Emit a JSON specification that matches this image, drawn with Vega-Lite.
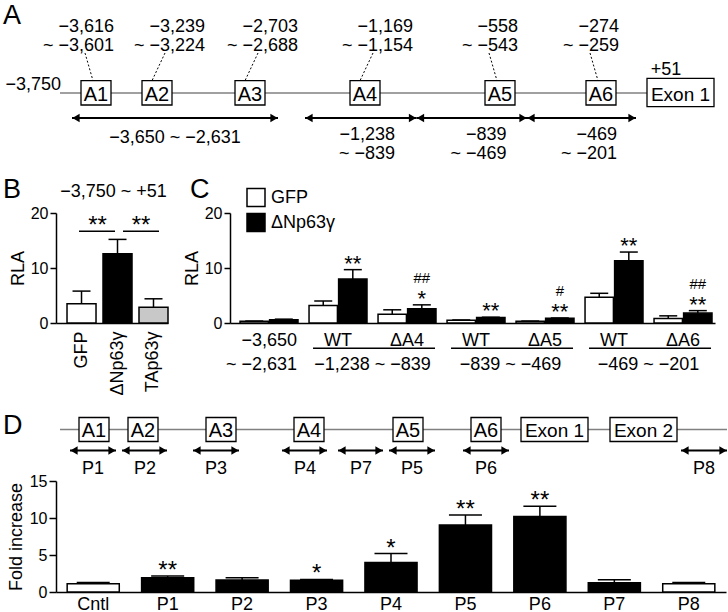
{
"$schema": "https://vega.github.io/schema/vega-lite/v6.json",
"padding": {"left": 3, "top": 0, "right": 0, "bottom": 0},
"background": "white",
"bounds": "flush",
"spacing": 20,
"resolve": {"scale": {"fill": "independent"}, "legend": {"fill": "independent"}},
"datasets": {
"panels": [{"A": "A", "B": "B", "C": "C", "D": "D"}],
"promoter": [{"start": -3750, "end": 51, "startLabel": "−3,750", "endLabel": "+51"}],
"locus": [{"start": -3750, "end": 1450}],
"elements": [
{"name": "A1", "start": -3616, "end": -3601, "range": "−3,616\n~ −3,601"},
{"name": "A2", "start": -3239, "end": -3224, "range": "−3,239\n~ −3,224"},
{"name": "A3", "start": -2703, "end": -2688, "range": "−2,703\n~ −2,688"},
{"name": "A4", "start": -1169, "end": -1154, "range": "−1,169\n~ −1,154"},
{"name": "A5", "start": -558, "end": -543, "range": "−558\n~ −543"},
{"name": "A6", "start": -274, "end": -259, "range": "−274\n~ −259"}],
"exons": [{"name": "Exon 1", "start": 1, "end": 150}, {"name": "Exon 2", "start": 1000, "end": 1150}],
"fragments": [
{"start": -3650, "end": -2631, "label": "−3,650 ~ −2,631"},
{"start": -1238, "end": -839, "label": "−1,238\n~ −839"},
{"start": -839, "end": -469, "label": "−839\n~ −469"},
{"start": -469, "end": -201, "label": "−469\n~ −201"}],
"amplicons": [
{"name": "P1", "start": -3680, "end": -3540},
{"name": "P2", "start": -3300, "end": -3160},
{"name": "P3", "start": -2770, "end": -2620},
{"name": "P4", "start": -1230, "end": -1090},
{"name": "P7", "start": -1000, "end": -860},
{"name": "P5", "start": -620, "end": -480},
{"name": "P6", "start": -340, "end": -200},
{"name": "P8", "start": 1300, "end": 1450}],
"rlaB": [
{"effector": "GFP", "mean": 3.5, "upper": 5.8},
{"effector": "ΔNp63γ", "mean": 12.6, "upper": 15.2},
{"effector": "TAp63γ", "mean": 2.85, "upper": 4.4}],
"sigB": [{"from": "GFP", "to": "ΔNp63γ", "label": "**"}, {"from": "ΔNp63γ", "to": "TAp63γ", "label": "**"}],
"constructB": [{"construct": "−3,750 ~ +51"}],
"rlaC": [
{"construct": "−3,650 ~ −2,631", "effector": "GFP", "mean": 0.3, "upper": 0.35},
{"construct": "−3,650 ~ −2,631", "effector": "ΔNp63γ", "mean": 0.6, "upper": 0.7},
{"construct": "WT −1,238 ~ −839", "effector": "GFP", "mean": 3.2, "upper": 4.0},
{"construct": "WT −1,238 ~ −839", "effector": "ΔNp63γ", "mean": 8.0, "upper": 9.7, "sig": "**"},
{"construct": "ΔA4 −1,238 ~ −839", "effector": "GFP", "mean": 1.6, "upper": 2.4},
{"construct": "ΔA4 −1,238 ~ −839", "effector": "ΔNp63γ", "mean": 2.6, "upper": 3.3, "sig": "*", "sig2": "##"},
{"construct": "WT −839 ~ −469", "effector": "GFP", "mean": 0.5, "upper": 0.55},
{"construct": "WT −839 ~ −469", "effector": "ΔNp63γ", "mean": 1.0, "upper": 1.05, "sig": "**"},
{"construct": "ΔA5 −839 ~ −469", "effector": "GFP", "mean": 0.3, "upper": 0.35},
{"construct": "ΔA5 −839 ~ −469", "effector": "ΔNp63γ", "mean": 0.85, "upper": 0.9, "sig": "**", "sig2": "#"},
{"construct": "WT −469 ~ −201", "effector": "GFP", "mean": 4.7, "upper": 5.4},
{"construct": "WT −469 ~ −201", "effector": "ΔNp63γ", "mean": 11.3, "upper": 12.9, "sig": "**"},
{"construct": "ΔA6 −469 ~ −201", "effector": "GFP", "mean": 0.8, "upper": 1.3},
{"construct": "ΔA6 −469 ~ −201", "effector": "ΔNp63γ", "mean": 1.8, "upper": 2.25, "sig": "**", "sig2": "##"}],
"constructsC": [
{"construct": "−3,650 ~ −2,631", "name": "−3,650\n~ −2,631"},
{"construct": "WT −1,238 ~ −839", "name": "WT"},
{"construct": "ΔA4 −1,238 ~ −839", "name": "ΔA4"},
{"construct": "WT −839 ~ −469", "name": "WT"},
{"construct": "ΔA5 −839 ~ −469", "name": "ΔA5"},
{"construct": "WT −469 ~ −201", "name": "WT"},
{"construct": "ΔA6 −469 ~ −201", "name": "ΔA6"}],
"regionsC": [
{"first": "WT −1,238 ~ −839", "last": "ΔA4 −1,238 ~ −839", "label": "−1,238 ~ −839"},
{"first": "WT −839 ~ −469", "last": "ΔA5 −839 ~ −469", "label": "−839 ~ −469"},
{"first": "WT −469 ~ −201", "last": "ΔA6 −469 ~ −201", "label": "−469 ~ −201"}],
"chip": [
{"region": "Cntl", "sample": "control", "mean": 1.1, "upper": 1.3},
{"region": "P1", "sample": "target", "mean": 1.93, "upper": 2.15, "sig": "**"},
{"region": "P2", "sample": "target", "mean": 1.62, "upper": 1.93},
{"region": "P3", "sample": "target", "mean": 1.58, "upper": 1.7, "sig": "*"},
{"region": "P4", "sample": "target", "mean": 4.0, "upper": 5.2, "sig": "*"},
{"region": "P5", "sample": "target", "mean": 9.05, "upper": 10.4, "sig": "**"},
{"region": "P6", "sample": "target", "mean": 10.2, "upper": 11.6, "sig": "**"},
{"region": "P7", "sample": "target", "mean": 1.26, "upper": 1.66},
{"region": "P8", "sample": "control", "mean": 1.12, "upper": 1.3}]
},
"vconcat": [
{
"width": 672, "height": 192.5,
"layer": [
{"data": {"name": "panels"}, "mark": {"type": "text", "fontSize": 27, "align": "left", "baseline": "alphabetic", "dx": -57},
"encoding": {"x": {"datum": -3750, "type": "quantitative", "axis": null, "scale": {"domain": [-3750,-3650,-3616,-3601,-3239,-3224,-2703,-2688,-2631,-1238,-1169,-1154,-839,-558,-543,-469,-274,-259,-201,1,51,150], "range": [4,16,25,55,86,116,179,209,222,249,294,324,360.5,429,459,471,530,560,580,591,610,658], "nice": false, "zero": false}},
"y": {"datum": 24, "type": "quantitative", "axis": null, "scale": {"domain": [0, 192.5], "reverse": true, "nice": false, "zero": false}},
"text": {"field": "A"}}},
{"data": {"name": "promoter"}, "mark": {"type": "rule", "color": "#808080", "strokeWidth": 1.5},
"encoding": {"x": {"field": "start", "type": "quantitative", "axis": null, "scale": {"domain": [-3750,-3650,-3616,-3601,-3239,-3224,-2703,-2688,-2631,-1238,-1169,-1154,-839,-558,-543,-469,-274,-259,-201,1,51,150], "range": [4,16,25,55,86,116,179,209,222,249,294,324,360.5,429,459,471,530,560,580,591,610,658], "nice": false, "zero": false}},
"x2": {"field": "end"},
"y": {"datum": 93, "type": "quantitative", "axis": null, "scale": {"domain": [0, 192.5], "reverse": true, "nice": false, "zero": false}}}},
{"data": {"name": "elements"}, "mark": {"type": "rect", "fill": "white", "stroke": "black", "strokeWidth": 1.3},
"encoding": {"x": {"field": "start", "type": "quantitative", "axis": null, "scale": {"domain": [-3750,-3650,-3616,-3601,-3239,-3224,-2703,-2688,-2631,-1238,-1169,-1154,-839,-558,-543,-469,-274,-259,-201,1,51,150], "range": [4,16,25,55,86,116,179,209,222,249,294,324,360.5,429,459,471,530,560,580,591,610,658], "nice": false, "zero": false}},
"x2": {"field": "end"},
"y": {"datum": 80.7, "type": "quantitative", "axis": null, "scale": {"domain": [0, 192.5], "reverse": true, "nice": false, "zero": false}},
"y2": {"datum": 105}}},
{"data": {"name": "exons"}, "transform": [{"filter": {"field": "name", "equal": "Exon 1"}}], "mark": {"type": "rect", "fill": "white", "stroke": "black", "strokeWidth": 1.3},
"encoding": {"x": {"field": "start", "type": "quantitative", "axis": null, "scale": {"domain": [-3750,-3650,-3616,-3601,-3239,-3224,-2703,-2688,-2631,-1238,-1169,-1154,-839,-558,-543,-469,-274,-259,-201,1,51,150], "range": [4,16,25,55,86,116,179,209,222,249,294,324,360.5,429,459,471,530,560,580,591,610,658], "nice": false, "zero": false}},
"x2": {"field": "end"},
"y": {"datum": 78.3, "type": "quantitative", "axis": null, "scale": {"domain": [0, 192.5], "reverse": true, "nice": false, "zero": false}},
"y2": {"datum": 106.7}}},
{"data": {"name": "elements"}, "mark": {"type": "text", "fontSize": 20, "align": "center", "baseline": "alphabetic", "dx": 15},
"encoding": {"x": {"field": "start", "type": "quantitative", "axis": null, "scale": {"domain": [-3750,-3650,-3616,-3601,-3239,-3224,-2703,-2688,-2631,-1238,-1169,-1154,-839,-558,-543,-469,-274,-259,-201,1,51,150], "range": [4,16,25,55,86,116,179,209,222,249,294,324,360.5,429,459,471,530,560,580,591,610,658], "nice": false, "zero": false}},
"y": {"datum": 100.5, "type": "quantitative", "axis": null, "scale": {"domain": [0, 192.5], "reverse": true, "nice": false, "zero": false}},
"text": {"field": "name"}}},
{"data": {"name": "exons"}, "transform": [{"filter": {"field": "name", "equal": "Exon 1"}}], "mark": {"type": "text", "fontSize": 19, "align": "center", "baseline": "alphabetic", "dx": 33.5},
"encoding": {"x": {"field": "start", "type": "quantitative", "axis": null, "scale": {"domain": [-3750,-3650,-3616,-3601,-3239,-3224,-2703,-2688,-2631,-1238,-1169,-1154,-839,-558,-543,-469,-274,-259,-201,1,51,150], "range": [4,16,25,55,86,116,179,209,222,249,294,324,360.5,429,459,471,530,560,580,591,610,658], "nice": false, "zero": false}},
"y": {"datum": 100.5, "type": "quantitative", "axis": null, "scale": {"domain": [0, 192.5], "reverse": true, "nice": false, "zero": false}},
"text": {"field": "name"}}},
{"data": {"name": "promoter"}, "mark": {"type": "text", "align": "center", "baseline": "alphabetic"},
"encoding": {"x": {"field": "end", "type": "quantitative", "axis": null, "scale": {"domain": [-3750,-3650,-3616,-3601,-3239,-3224,-2703,-2688,-2631,-1238,-1169,-1154,-839,-558,-543,-469,-274,-259,-201,1,51,150], "range": [4,16,25,55,86,116,179,209,222,249,294,324,360.5,429,459,471,530,560,580,591,610,658], "nice": false, "zero": false}},
"y": {"datum": 75, "type": "quantitative", "axis": null, "scale": {"domain": [0, 192.5], "reverse": true, "nice": false, "zero": false}},
"text": {"field": "endLabel"}}},
{"data": {"name": "promoter"}, "mark": {"type": "text", "align": "right", "baseline": "alphabetic", "dx": 1},
"encoding": {"x": {"field": "start", "type": "quantitative", "axis": null, "scale": {"domain": [-3750,-3650,-3616,-3601,-3239,-3224,-2703,-2688,-2631,-1238,-1169,-1154,-839,-558,-543,-469,-274,-259,-201,1,51,150], "range": [4,16,25,55,86,116,179,209,222,249,294,324,360.5,429,459,471,530,560,580,591,610,658], "nice": false, "zero": false}},
"y": {"datum": 90, "type": "quantitative", "axis": null, "scale": {"domain": [0, 192.5], "reverse": true, "nice": false, "zero": false}},
"text": {"field": "startLabel"}}},
{"data": {"name": "elements"}, "transform": [{"filter": {"field": "name", "oneOf": ["A2", "A3", "A4"]}}], "mark": {"type": "text", "align": "right", "baseline": "alphabetic", "dx": 33, "lineBreak": "\n", "lineHeight": 19},
"encoding": {"x": {"field": "end", "type": "quantitative", "axis": null, "scale": {"domain": [-3750,-3650,-3616,-3601,-3239,-3224,-2703,-2688,-2631,-1238,-1169,-1154,-839,-558,-543,-469,-274,-259,-201,1,51,150], "range": [4,16,25,55,86,116,179,209,222,249,294,324,360.5,429,459,471,530,560,580,591,610,658], "nice": false, "zero": false}},
"y": {"datum": 31.5, "type": "quantitative", "axis": null, "scale": {"domain": [0, 192.5], "reverse": true, "nice": false, "zero": false}},
"text": {"field": "range"}}},
{"data": {"name": "elements"}, "transform": [{"filter": {"field": "name", "oneOf": ["A1", "A5", "A6"]}}], "mark": {"type": "text", "align": "right", "baseline": "alphabetic", "dx": 3, "lineBreak": "\n", "lineHeight": 19},
"encoding": {"x": {"field": "end", "type": "quantitative", "axis": null, "scale": {"domain": [-3750,-3650,-3616,-3601,-3239,-3224,-2703,-2688,-2631,-1238,-1169,-1154,-839,-558,-543,-469,-274,-259,-201,1,51,150], "range": [4,16,25,55,86,116,179,209,222,249,294,324,360.5,429,459,471,530,560,580,591,610,658], "nice": false, "zero": false}},
"y": {"datum": 31.5, "type": "quantitative", "axis": null, "scale": {"domain": [0, 192.5], "reverse": true, "nice": false, "zero": false}},
"text": {"field": "range"}}},
{"data": {"name": "elements"}, "transform": [{"filter": {"field": "name", "oneOf": ["A2", "A3", "A4"]}}], "mark": {"type": "rule", "color": "black", "strokeWidth": 1, "strokeDash": [2, 2], "xOffset": 23, "x2Offset": 10},
"encoding": {"x": {"field": "start", "type": "quantitative", "axis": null, "scale": {"domain": [-3750,-3650,-3616,-3601,-3239,-3224,-2703,-2688,-2631,-1238,-1169,-1154,-839,-558,-543,-469,-274,-259,-201,1,51,150], "range": [4,16,25,55,86,116,179,209,222,249,294,324,360.5,429,459,471,530,560,580,591,610,658], "nice": false, "zero": false}},
"x2": {"field": "start"},
"y": {"datum": 53, "type": "quantitative", "axis": null, "scale": {"domain": [0, 192.5], "reverse": true, "nice": false, "zero": false}},
"y2": {"datum": 80.7}}},
{"data": {"name": "elements"}, "transform": [{"filter": {"field": "name", "oneOf": ["A1", "A5", "A6"]}}], "mark": {"type": "rule", "color": "black", "strokeWidth": 1, "strokeDash": [2, 2], "xOffset": 4, "x2Offset": 12},
"encoding": {"x": {"field": "start", "type": "quantitative", "axis": null, "scale": {"domain": [-3750,-3650,-3616,-3601,-3239,-3224,-2703,-2688,-2631,-1238,-1169,-1154,-839,-558,-543,-469,-274,-259,-201,1,51,150], "range": [4,16,25,55,86,116,179,209,222,249,294,324,360.5,429,459,471,530,560,580,591,610,658], "nice": false, "zero": false}},
"x2": {"field": "start"},
"y": {"datum": 53, "type": "quantitative", "axis": null, "scale": {"domain": [0, 192.5], "reverse": true, "nice": false, "zero": false}},
"y2": {"datum": 80.7}}},
{"data": {"name": "fragments"}, "mark": {"type": "rule", "color": "black", "strokeWidth": 1.8},
"encoding": {"x": {"field": "start", "type": "quantitative", "axis": null, "scale": {"domain": [-3750,-3650,-3616,-3601,-3239,-3224,-2703,-2688,-2631,-1238,-1169,-1154,-839,-558,-543,-469,-274,-259,-201,1,51,150], "range": [4,16,25,55,86,116,179,209,222,249,294,324,360.5,429,459,471,530,560,580,591,610,658], "nice": false, "zero": false}},
"x2": {"field": "end"},
"y": {"datum": 118, "type": "quantitative", "axis": null, "scale": {"domain": [0, 192.5], "reverse": true, "nice": false, "zero": false}}}},
{"data": {"name": "fragments"}, "mark": {"type": "point", "shape": "triangle-left", "filled": true, "color": "black", "opacity": 1, "size": 70, "xOffset": 4},
"encoding": {"x": {"field": "start", "type": "quantitative", "axis": null, "scale": {"domain": [-3750,-3650,-3616,-3601,-3239,-3224,-2703,-2688,-2631,-1238,-1169,-1154,-839,-558,-543,-469,-274,-259,-201,1,51,150], "range": [4,16,25,55,86,116,179,209,222,249,294,324,360.5,429,459,471,530,560,580,591,610,658], "nice": false, "zero": false}},
"y": {"datum": 118, "type": "quantitative", "axis": null, "scale": {"domain": [0, 192.5], "reverse": true, "nice": false, "zero": false}}}},
{"data": {"name": "fragments"}, "mark": {"type": "point", "shape": "triangle-right", "filled": true, "color": "black", "opacity": 1, "size": 70, "xOffset": -4},
"encoding": {"x": {"field": "end", "type": "quantitative", "axis": null, "scale": {"domain": [-3750,-3650,-3616,-3601,-3239,-3224,-2703,-2688,-2631,-1238,-1169,-1154,-839,-558,-543,-469,-274,-259,-201,1,51,150], "range": [4,16,25,55,86,116,179,209,222,249,294,324,360.5,429,459,471,530,560,580,591,610,658], "nice": false, "zero": false}},
"y": {"datum": 118, "type": "quantitative", "axis": null, "scale": {"domain": [0, 192.5], "reverse": true, "nice": false, "zero": false}}}},
{"data": {"name": "fragments"}, "transform": [{"filter": {"field": "start", "equal": -3650}}], "mark": {"type": "text", "align": "center", "baseline": "alphabetic", "dx": 103},
"encoding": {"x": {"field": "start", "type": "quantitative", "axis": null, "scale": {"domain": [-3750,-3650,-3616,-3601,-3239,-3224,-2703,-2688,-2631,-1238,-1169,-1154,-839,-558,-543,-469,-274,-259,-201,1,51,150], "range": [4,16,25,55,86,116,179,209,222,249,294,324,360.5,429,459,471,530,560,580,591,610,658], "nice": false, "zero": false}},
"y": {"datum": 143, "type": "quantitative", "axis": null, "scale": {"domain": [0, 192.5], "reverse": true, "nice": false, "zero": false}},
"text": {"field": "label"}}},
{"data": {"name": "fragments"}, "transform": [{"filter": {"not": {"field": "start", "equal": -3650}}}], "mark": {"type": "text", "align": "right", "baseline": "alphabetic", "dx": 90, "lineBreak": "\n", "lineHeight": 19.5},
"encoding": {"x": {"field": "start", "type": "quantitative", "axis": null, "scale": {"domain": [-3750,-3650,-3616,-3601,-3239,-3224,-2703,-2688,-2631,-1238,-1169,-1154,-839,-558,-543,-469,-274,-259,-201,1,51,150], "range": [4,16,25,55,86,116,179,209,222,249,294,324,360.5,429,459,471,530,560,580,591,610,658], "nice": false, "zero": false}},
"y": {"datum": 139.5, "type": "quantitative", "axis": null, "scale": {"domain": [0, 192.5], "reverse": true, "nice": false, "zero": false}},
"text": {"field": "label"}}}
]
},
{
"width": 659, "height": 110,
"resolve": {"scale": {"x": "independent", "y": "independent", "fill": "independent"}, "axis": {"x": "independent", "y": "independent"}, "legend": {"fill": "independent"}},
"layer": [
{
"layer": [
{"data": {"name": "rlaB"}, "mark": {"type": "bar", "stroke": "black", "strokeWidth": 1.5},
"encoding": {
"x": {"field": "effector", "type": "nominal", "scale": {"domain": ["GFP", "ΔNp63γ", "TAp63γ"], "range": [0, 112], "paddingInner": 0.194, "paddingOuter": 0.153, "align": 1}, "axis": {"orient": "bottom", "title": null, "ticks": false, "tickSize": 0, "labelAngle": -90, "labelPadding": 8, "labelFontSize": 18}},
"y": {"field": "mean", "type": "quantitative", "scale": {"domain": [0, 20], "nice": false}, "axis": {"orient": "left", "title": "RLA", "tickCount": 2, "labelOverlap": false, "tickSize": 6, "labelPadding": 2, "titlePadding": 3}},
"fill": {"field": "effector", "type": "nominal", "scale": {"domain": ["GFP", "ΔNp63γ", "TAp63γ"], "range": ["white", "black", "#c8c8c8"]}, "legend": null}}},
{"data": {"name": "rlaB"}, "mark": {"type": "rule", "color": "black", "strokeWidth": 1.5},
"encoding": {
"x": {"field": "effector", "type": "nominal", "scale": {"domain": ["GFP", "ΔNp63γ", "TAp63γ"], "range": [0, 112], "paddingInner": 0.194, "paddingOuter": 0.153, "align": 1}},
"y": {"field": "mean", "type": "quantitative", "scale": {"domain": [0, 20], "nice": false}},
"y2": {"field": "upper"}}},
{"data": {"name": "rlaB"}, "mark": {"type": "tick", "color": "black", "thickness": 1.5, "size": 18, "opacity": 1},
"encoding": {
"x": {"field": "effector", "type": "nominal", "scale": {"domain": ["GFP", "ΔNp63γ", "TAp63γ"], "range": [0, 112], "paddingInner": 0.194, "paddingOuter": 0.153, "align": 1}},
"y": {"field": "upper", "type": "quantitative", "scale": {"domain": [0, 20], "nice": false}}}},
{"data": {"name": "sigB"}, "transform": [{"filter": {"field": "from", "equal": "GFP"}}], "mark": {"type": "rule", "color": "black", "strokeWidth": 1.5, "xOffset": -2.5, "x2Offset": -2.5},
"encoding": {
"x": {"field": "from", "type": "nominal", "scale": {"domain": ["GFP", "ΔNp63γ", "TAp63γ"], "range": [0, 112], "paddingInner": 0.194, "paddingOuter": 0.153, "align": 1}},
"x2": {"field": "to"},
"y": {"datum": 16.7, "type": "quantitative", "scale": {"domain": [0, 20], "nice": false}}}},
{"data": {"name": "sigB"}, "transform": [{"filter": {"field": "from", "equal": "ΔNp63γ"}}], "mark": {"type": "rule", "color": "black", "strokeWidth": 1.5, "xOffset": 5.5, "x2Offset": 5.5},
"encoding": {
"x": {"field": "from", "type": "nominal", "scale": {"domain": ["GFP", "ΔNp63γ", "TAp63γ"], "range": [0, 112], "paddingInner": 0.194, "paddingOuter": 0.153, "align": 1}},
"x2": {"field": "to"},
"y": {"datum": 16.7, "type": "quantitative", "scale": {"domain": [0, 20], "nice": false}}}},
{"data": {"name": "sigB"}, "transform": [{"filter": {"field": "from", "equal": "GFP"}}], "mark": {"type": "text", "fontSize": 24, "align": "center", "baseline": "alphabetic", "dx": 1.5, "dy": 2},
"encoding": {
"x": {"field": "from", "type": "nominal", "bandPosition": 1, "scale": {"domain": ["GFP", "ΔNp63γ", "TAp63γ"], "range": [0, 112], "paddingInner": 0.194, "paddingOuter": 0.153, "align": 1}},
"y": {"datum": 16.7, "type": "quantitative", "scale": {"domain": [0, 20], "nice": false}},
"text": {"field": "label"}}},
{"data": {"name": "sigB"}, "transform": [{"filter": {"field": "from", "equal": "ΔNp63γ"}}], "mark": {"type": "text", "fontSize": 24, "align": "center", "baseline": "alphabetic", "dx": 9, "dy": 2},
"encoding": {
"x": {"field": "from", "type": "nominal", "bandPosition": 1, "scale": {"domain": ["GFP", "ΔNp63γ", "TAp63γ"], "range": [0, 112], "paddingInner": 0.194, "paddingOuter": 0.153, "align": 1}},
"y": {"datum": 16.7, "type": "quantitative", "scale": {"domain": [0, 20], "nice": false}},
"text": {"field": "label"}}},
{"data": {"name": "constructB"}, "mark": {"type": "text", "align": "center", "baseline": "alphabetic", "dx": -4},
"encoding": {
"x": {"datum": "ΔNp63γ", "type": "nominal", "scale": {"domain": ["GFP", "ΔNp63γ", "TAp63γ"], "range": [0, 112], "paddingInner": 0.194, "paddingOuter": 0.153, "align": 1}},
"y": {"datum": 22.9, "type": "quantitative", "scale": {"domain": [0, 20], "nice": false}},
"text": {"field": "construct"}}},
{"data": {"name": "panels"}, "mark": {"type": "text", "fontSize": 27, "align": "left", "baseline": "alphabetic", "dx": -78.5},
"encoding": {
"x": {"datum": "GFP", "type": "nominal", "scale": {"domain": ["GFP", "ΔNp63γ", "TAp63γ"], "range": [0, 112], "paddingInner": 0.194, "paddingOuter": 0.153, "align": 1}},
"y": {"datum": 22.8, "type": "quantitative", "scale": {"domain": [0, 20], "nice": false}},
"text": {"field": "B"}}}
]
},
{
"layer": [
{"data": {"name": "rlaC"}, "mark": {"type": "bar", "stroke": "black", "strokeWidth": 1.5},
"encoding": {
"x": {"field": "construct", "type": "nominal", "scale": {"domain": ["−3,650 ~ −2,631", "WT −1,238 ~ −839", "ΔA4 −1,238 ~ −839", "WT −839 ~ −469", "ΔA5 −839 ~ −469", "WT −469 ~ −201", "ΔA6 −469 ~ −201"], "range": [174, 659], "paddingInner": 0.16, "paddingOuter": 0.0945, "align": 0.77}, "axis": {"orient": "bottom", "title": null, "labels": false, "ticks": false}},
"xOffset": {"field": "effector", "type": "nominal", "scale": {"domain": ["GFP", "ΔNp63γ"], "paddingInner": 0.04}},
"y": {"field": "mean", "type": "quantitative", "scale": {"domain": [0, 20], "nice": false}, "axis": {"orient": "left", "offset": -174, "title": "RLA", "tickCount": 2, "labelOverlap": false, "tickSize": 6, "labelPadding": 2, "titlePadding": 3}},
"fill": {"field": "effector", "type": "nominal", "scale": {"domain": ["GFP", "ΔNp63γ"], "range": ["white", "black"]},
"legend": {"title": null, "orient": "none", "legendX": 190, "legendY": -25.5, "direction": "vertical", "symbolType": "square", "symbolSize": 324, "symbolStrokeColor": "black", "symbolStrokeWidth": 1.5, "labelFontSize": 18, "labelOffset": 5, "rowPadding": 1, "padding": 0}}}},
{"data": {"name": "rlaC"}, "mark": {"type": "rule", "color": "black", "strokeWidth": 1.5},
"encoding": {
"x": {"field": "construct", "type": "nominal", "scale": {"domain": ["−3,650 ~ −2,631", "WT −1,238 ~ −839", "ΔA4 −1,238 ~ −839", "WT −839 ~ −469", "ΔA5 −839 ~ −469", "WT −469 ~ −201", "ΔA6 −469 ~ −201"], "range": [174, 659], "paddingInner": 0.16, "paddingOuter": 0.0945, "align": 0.77}},
"xOffset": {"field": "effector", "type": "nominal", "scale": {"domain": ["GFP", "ΔNp63γ"], "paddingInner": 0.04}},
"y": {"field": "mean", "type": "quantitative", "scale": {"domain": [0, 20], "nice": false}},
"y2": {"field": "upper"}}},
{"data": {"name": "rlaC"}, "mark": {"type": "tick", "color": "black", "thickness": 1.5, "size": 18, "opacity": 1},
"encoding": {
"x": {"field": "construct", "type": "nominal", "scale": {"domain": ["−3,650 ~ −2,631", "WT −1,238 ~ −839", "ΔA4 −1,238 ~ −839", "WT −839 ~ −469", "ΔA5 −839 ~ −469", "WT −469 ~ −201", "ΔA6 −469 ~ −201"], "range": [174, 659], "paddingInner": 0.16, "paddingOuter": 0.0945, "align": 0.77}},
"xOffset": {"field": "effector", "type": "nominal", "scale": {"domain": ["GFP", "ΔNp63γ"], "paddingInner": 0.04}},
"y": {"field": "upper", "type": "quantitative", "scale": {"domain": [0, 20], "nice": false}}}},
{"data": {"name": "rlaC"}, "transform": [{"filter": {"field": "sig", "oneOf": ["*", "**"]}}], "mark": {"type": "text", "fontSize": 22, "align": "center", "baseline": "alphabetic", "dy": 1},
"encoding": {
"x": {"field": "construct", "type": "nominal", "scale": {"domain": ["−3,650 ~ −2,631", "WT −1,238 ~ −839", "ΔA4 −1,238 ~ −839", "WT −839 ~ −469", "ΔA5 −839 ~ −469", "WT −469 ~ −201", "ΔA6 −469 ~ −201"], "range": [174, 659], "paddingInner": 0.16, "paddingOuter": 0.0945, "align": 0.77}},
"xOffset": {"field": "effector", "type": "nominal", "scale": {"domain": ["GFP", "ΔNp63γ"], "paddingInner": 0.04}},
"y": {"field": "upper", "type": "quantitative", "scale": {"domain": [0, 20], "nice": false}},
"text": {"field": "sig"}}},
{"data": {"name": "rlaC"}, "transform": [{"filter": {"field": "sig2", "oneOf": ["#", "##"]}}], "mark": {"type": "text", "fontSize": 15, "align": "center", "baseline": "alphabetic", "dy": -22},
"encoding": {
"x": {"field": "construct", "type": "nominal", "scale": {"domain": ["−3,650 ~ −2,631", "WT −1,238 ~ −839", "ΔA4 −1,238 ~ −839", "WT −839 ~ −469", "ΔA5 −839 ~ −469", "WT −469 ~ −201", "ΔA6 −469 ~ −201"], "range": [174, 659], "paddingInner": 0.16, "paddingOuter": 0.0945, "align": 0.77}},
"xOffset": {"field": "effector", "type": "nominal", "scale": {"domain": ["GFP", "ΔNp63γ"], "paddingInner": 0.04}},
"y": {"field": "upper", "type": "quantitative", "scale": {"domain": [0, 20], "nice": false}},
"text": {"field": "sig2"}}},
{"data": {"name": "constructsC"}, "transform": [{"filter": {"field": "construct", "equal": "−3,650 ~ −2,631"}}], "mark": {"type": "text", "align": "right", "baseline": "alphabetic", "dx": 28, "lineBreak": "\n", "lineHeight": 24},
"encoding": {
"x": {"field": "construct", "type": "nominal", "scale": {"domain": ["−3,650 ~ −2,631", "WT −1,238 ~ −839", "ΔA4 −1,238 ~ −839", "WT −839 ~ −469", "ΔA5 −839 ~ −469", "WT −469 ~ −201", "ΔA6 −469 ~ −201"], "range": [174, 659], "paddingInner": 0.16, "paddingOuter": 0.0945, "align": 0.77}},
"y": {"datum": -4.18, "type": "quantitative", "scale": {"domain": [0, 20], "nice": false}},
"text": {"field": "name"}}},
{"data": {"name": "constructsC"}, "transform": [{"filter": {"not": {"field": "construct", "equal": "−3,650 ~ −2,631"}}}], "mark": {"type": "text", "align": "center", "baseline": "alphabetic"},
"encoding": {
"x": {"field": "construct", "type": "nominal", "scale": {"domain": ["−3,650 ~ −2,631", "WT −1,238 ~ −839", "ΔA4 −1,238 ~ −839", "WT −839 ~ −469", "ΔA5 −839 ~ −469", "WT −469 ~ −201", "ΔA6 −469 ~ −201"], "range": [174, 659], "paddingInner": 0.16, "paddingOuter": 0.0945, "align": 0.77}},
"y": {"datum": -4.18, "type": "quantitative", "scale": {"domain": [0, 20], "nice": false}},
"text": {"field": "name"}}},
{"data": {"name": "regionsC"}, "mark": {"type": "rule", "color": "black", "strokeWidth": 1.5, "xOffset": -25, "x2Offset": 28},
"encoding": {
"x": {"field": "first", "type": "nominal", "scale": {"domain": ["−3,650 ~ −2,631", "WT −1,238 ~ −839", "ΔA4 −1,238 ~ −839", "WT −839 ~ −469", "ΔA5 −839 ~ −469", "WT −469 ~ −201", "ΔA6 −469 ~ −201"], "range": [174, 659], "paddingInner": 0.16, "paddingOuter": 0.0945, "align": 0.77}},
"x2": {"field": "last"},
"y": {"datum": -4.6, "type": "quantitative", "scale": {"domain": [0, 20], "nice": false}}}},
{"data": {"name": "regionsC"}, "mark": {"type": "text", "align": "center", "baseline": "alphabetic", "dx": -5.5},
"encoding": {
"x": {"field": "last", "type": "nominal", "bandPosition": 0, "scale": {"domain": ["−3,650 ~ −2,631", "WT −1,238 ~ −839", "ΔA4 −1,238 ~ −839", "WT −839 ~ −469", "ΔA5 −839 ~ −469", "WT −469 ~ −201", "ΔA6 −469 ~ −201"], "range": [174, 659], "paddingInner": 0.16, "paddingOuter": 0.0945, "align": 0.77}},
"y": {"datum": -8.55, "type": "quantitative", "scale": {"domain": [0, 20], "nice": false}},
"text": {"field": "label"}}},
{"data": {"name": "panels"}, "mark": {"type": "text", "fontSize": 27, "align": "left", "baseline": "alphabetic", "dx": -79},
"encoding": {
"x": {"datum": "−3,650 ~ −2,631", "type": "nominal", "scale": {"domain": ["−3,650 ~ −2,631", "WT −1,238 ~ −839", "ΔA4 −1,238 ~ −839", "WT −839 ~ −469", "ΔA5 −839 ~ −469", "WT −469 ~ −201", "ΔA6 −469 ~ −201"], "range": [174, 659], "paddingInner": 0.16, "paddingOuter": 0.0945, "align": 0.77}},
"y": {"datum": 22.8, "type": "quantitative", "scale": {"domain": [0, 20], "nice": false}},
"text": {"field": "C"}}}
]
}
]
},
{
"width": 672, "height": 117.5,
"layer": [
{"data": {"name": "panels"}, "mark": {"type": "text", "fontSize": 27, "align": "left", "baseline": "alphabetic", "dx": -57},
"encoding": {"x": {"datum": -3750, "type": "quantitative", "axis": null, "scale": {"domain": [-3750,-3680,-3616,-3601,-3540,-3300,-3239,-3224,-3160,-2770,-2703,-2688,-2620,-1230,-1169,-1154,-1090,-1000,-860,-620,-558,-543,-480,-340,-274,-259,-200,1,150,1000,1150,1300,1450], "range": [4,14,23,53,60,66,72,102,111,137,150,180,183,226,238,268,271,282,327,333,337,367,379,407,415,445,453,465,532,554,621,625,671], "nice": false, "zero": false}},
"y": {"datum": 90.5, "type": "quantitative", "axis": null, "scale": {"domain": [0, 117.5], "reverse": true, "nice": false, "zero": false}},
"text": {"field": "D"}}},
{"data": {"name": "locus"}, "mark": {"type": "rule", "color": "#808080", "strokeWidth": 1.5},
"encoding": {"x": {"field": "start", "type": "quantitative", "axis": null, "scale": {"domain": [-3750,-3680,-3616,-3601,-3540,-3300,-3239,-3224,-3160,-2770,-2703,-2688,-2620,-1230,-1169,-1154,-1090,-1000,-860,-620,-558,-543,-480,-340,-274,-259,-200,1,150,1000,1150,1300,1450], "range": [4,14,23,53,60,66,72,102,111,137,150,180,183,226,238,268,271,282,327,333,337,367,379,407,415,445,453,465,532,554,621,625,671], "nice": false, "zero": false}},
"x2": {"field": "end"},
"y": {"datum": 86.5, "type": "quantitative", "axis": null, "scale": {"domain": [0, 117.5], "reverse": true, "nice": false, "zero": false}}}},
{"data": {"name": "elements"}, "mark": {"type": "rect", "fill": "white", "stroke": "black", "strokeWidth": 1.3},
"encoding": {"x": {"field": "start", "type": "quantitative", "axis": null, "scale": {"domain": [-3750,-3680,-3616,-3601,-3540,-3300,-3239,-3224,-3160,-2770,-2703,-2688,-2620,-1230,-1169,-1154,-1090,-1000,-860,-620,-558,-543,-480,-340,-274,-259,-200,1,150,1000,1150,1300,1450], "range": [4,14,23,53,60,66,72,102,111,137,150,180,183,226,238,268,271,282,327,333,337,367,379,407,415,445,453,465,532,554,621,625,671], "nice": false, "zero": false}},
"x2": {"field": "end"},
"y": {"datum": 74.5, "type": "quantitative", "axis": null, "scale": {"domain": [0, 117.5], "reverse": true, "nice": false, "zero": false}},
"y2": {"datum": 98.5}}},
{"data": {"name": "exons"}, "mark": {"type": "rect", "fill": "white", "stroke": "black", "strokeWidth": 1.3},
"encoding": {"x": {"field": "start", "type": "quantitative", "axis": null, "scale": {"domain": [-3750,-3680,-3616,-3601,-3540,-3300,-3239,-3224,-3160,-2770,-2703,-2688,-2620,-1230,-1169,-1154,-1090,-1000,-860,-620,-558,-543,-480,-340,-274,-259,-200,1,150,1000,1150,1300,1450], "range": [4,14,23,53,60,66,72,102,111,137,150,180,183,226,238,268,271,282,327,333,337,367,379,407,415,445,453,465,532,554,621,625,671], "nice": false, "zero": false}},
"x2": {"field": "end"},
"y": {"datum": 74.5, "type": "quantitative", "axis": null, "scale": {"domain": [0, 117.5], "reverse": true, "nice": false, "zero": false}},
"y2": {"datum": 98.5}}},
{"data": {"name": "elements"}, "mark": {"type": "text", "fontSize": 20, "align": "center", "baseline": "alphabetic", "dx": 15},
"encoding": {"x": {"field": "start", "type": "quantitative", "axis": null, "scale": {"domain": [-3750,-3680,-3616,-3601,-3540,-3300,-3239,-3224,-3160,-2770,-2703,-2688,-2620,-1230,-1169,-1154,-1090,-1000,-860,-620,-558,-543,-480,-340,-274,-259,-200,1,150,1000,1150,1300,1450], "range": [4,14,23,53,60,66,72,102,111,137,150,180,183,226,238,268,271,282,327,333,337,367,379,407,415,445,453,465,532,554,621,625,671], "nice": false, "zero": false}},
"y": {"datum": 94.2, "type": "quantitative", "axis": null, "scale": {"domain": [0, 117.5], "reverse": true, "nice": false, "zero": false}},
"text": {"field": "name"}}},
{"data": {"name": "exons"}, "mark": {"type": "text", "fontSize": 19, "align": "center", "baseline": "alphabetic", "dx": 33.5},
"encoding": {"x": {"field": "start", "type": "quantitative", "axis": null, "scale": {"domain": [-3750,-3680,-3616,-3601,-3540,-3300,-3239,-3224,-3160,-2770,-2703,-2688,-2620,-1230,-1169,-1154,-1090,-1000,-860,-620,-558,-543,-480,-340,-274,-259,-200,1,150,1000,1150,1300,1450], "range": [4,14,23,53,60,66,72,102,111,137,150,180,183,226,238,268,271,282,327,333,337,367,379,407,415,445,453,465,532,554,621,625,671], "nice": false, "zero": false}},
"y": {"datum": 94, "type": "quantitative", "axis": null, "scale": {"domain": [0, 117.5], "reverse": true, "nice": false, "zero": false}},
"text": {"field": "name"}}},
{"data": {"name": "amplicons"}, "mark": {"type": "rule", "color": "black", "strokeWidth": 1.8},
"encoding": {"x": {"field": "start", "type": "quantitative", "axis": null, "scale": {"domain": [-3750,-3680,-3616,-3601,-3540,-3300,-3239,-3224,-3160,-2770,-2703,-2688,-2620,-1230,-1169,-1154,-1090,-1000,-860,-620,-558,-543,-480,-340,-274,-259,-200,1,150,1000,1150,1300,1450], "range": [4,14,23,53,60,66,72,102,111,137,150,180,183,226,238,268,271,282,327,333,337,367,379,407,415,445,453,465,532,554,621,625,671], "nice": false, "zero": false}},
"x2": {"field": "end"},
"y": {"datum": 107.5, "type": "quantitative", "axis": null, "scale": {"domain": [0, 117.5], "reverse": true, "nice": false, "zero": false}}}},
{"data": {"name": "amplicons"}, "mark": {"type": "point", "shape": "triangle-left", "filled": true, "color": "black", "opacity": 1, "size": 70, "xOffset": 4},
"encoding": {"x": {"field": "start", "type": "quantitative", "axis": null, "scale": {"domain": [-3750,-3680,-3616,-3601,-3540,-3300,-3239,-3224,-3160,-2770,-2703,-2688,-2620,-1230,-1169,-1154,-1090,-1000,-860,-620,-558,-543,-480,-340,-274,-259,-200,1,150,1000,1150,1300,1450], "range": [4,14,23,53,60,66,72,102,111,137,150,180,183,226,238,268,271,282,327,333,337,367,379,407,415,445,453,465,532,554,621,625,671], "nice": false, "zero": false}},
"y": {"datum": 107.5, "type": "quantitative", "axis": null, "scale": {"domain": [0, 117.5], "reverse": true, "nice": false, "zero": false}}}},
{"data": {"name": "amplicons"}, "mark": {"type": "point", "shape": "triangle-right", "filled": true, "color": "black", "opacity": 1, "size": 70, "xOffset": -4},
"encoding": {"x": {"field": "end", "type": "quantitative", "axis": null, "scale": {"domain": [-3750,-3680,-3616,-3601,-3540,-3300,-3239,-3224,-3160,-2770,-2703,-2688,-2620,-1230,-1169,-1154,-1090,-1000,-860,-620,-558,-543,-480,-340,-274,-259,-200,1,150,1000,1150,1300,1450], "range": [4,14,23,53,60,66,72,102,111,137,150,180,183,226,238,268,271,282,327,333,337,367,379,407,415,445,453,465,532,554,621,625,671], "nice": false, "zero": false}},
"y": {"datum": 107.5, "type": "quantitative", "axis": null, "scale": {"domain": [0, 117.5], "reverse": true, "nice": false, "zero": false}}}},
{"data": {"name": "amplicons"}, "mark": {"type": "text", "align": "center", "baseline": "alphabetic", "dx": 23},
"encoding": {"x": {"field": "start", "type": "quantitative", "axis": null, "scale": {"domain": [-3750,-3680,-3616,-3601,-3540,-3300,-3239,-3224,-3160,-2770,-2703,-2688,-2620,-1230,-1169,-1154,-1090,-1000,-860,-620,-558,-543,-480,-340,-274,-259,-200,1,150,1000,1150,1300,1450], "range": [4,14,23,53,60,66,72,102,111,137,150,180,183,226,238,268,271,282,327,333,337,367,379,407,415,445,453,465,532,554,621,625,671], "nice": false, "zero": false}},
"y": {"datum": 130.8, "type": "quantitative", "axis": null, "scale": {"domain": [0, 117.5], "reverse": true, "nice": false, "zero": false}},
"text": {"field": "name"}}}
]
},
{
"width": 670, "height": 111,
"layer": [
{"data": {"name": "chip"}, "mark": {"type": "bar", "stroke": "black", "strokeWidth": 1.5},
"encoding": {
"x": {"field": "region", "type": "nominal", "scale": {"domain": ["Cntl", "P1", "P2", "P3", "P4", "P5", "P6", "P7", "P8"], "paddingInner": 0.3, "paddingOuter": 0.15}, "axis": {"title": null, "ticks": false, "tickSize": 0, "labelAngle": 0, "labelPadding": 3, "labelFontSize": 18}},
"y": {"field": "mean", "type": "quantitative", "scale": {"domain": [0, 15], "nice": false}, "axis": {"title": "Fold increase", "tickCount": 3, "labelOverlap": false, "labelFlush": false, "labelBound": false, "tickSize": 7, "labelPadding": 2, "titlePadding": 4}},
"fill": {"field": "sample", "type": "nominal", "scale": {"domain": ["control", "target"], "range": ["white", "black"]}, "legend": null}}},
{"data": {"name": "chip"}, "mark": {"type": "rule", "color": "black", "strokeWidth": 1.5},
"encoding": {
"x": {"field": "region", "type": "nominal", "scale": {"domain": ["Cntl", "P1", "P2", "P3", "P4", "P5", "P6", "P7", "P8"], "paddingInner": 0.3, "paddingOuter": 0.15}},
"y": {"field": "mean", "type": "quantitative", "scale": {"domain": [0, 15], "nice": false}},
"y2": {"field": "upper"}}},
{"data": {"name": "chip"}, "mark": {"type": "tick", "color": "black", "thickness": 1.5, "size": 33, "opacity": 1},
"encoding": {
"x": {"field": "region", "type": "nominal", "scale": {"domain": ["Cntl", "P1", "P2", "P3", "P4", "P5", "P6", "P7", "P8"], "paddingInner": 0.3, "paddingOuter": 0.15}},
"y": {"field": "upper", "type": "quantitative", "scale": {"domain": [0, 15], "nice": false}}}},
{"data": {"name": "chip"}, "transform": [{"filter": {"field": "sig", "oneOf": ["*", "**"]}}], "mark": {"type": "text", "fontSize": 24, "align": "center", "baseline": "alphabetic", "dy": 2},
"encoding": {
"x": {"field": "region", "type": "nominal", "scale": {"domain": ["Cntl", "P1", "P2", "P3", "P4", "P5", "P6", "P7", "P8"], "paddingInner": 0.3, "paddingOuter": 0.15}},
"y": {"field": "upper", "type": "quantitative", "scale": {"domain": [0, 15], "nice": false}},
"text": {"field": "sig"}}}
]
}
],
"config": {
"font": "Liberation Sans",
"view": {"stroke": null},
"axis": {"domainColor": "black", "domainWidth": 1.5, "tickColor": "black", "tickWidth": 1.5, "labelColor": "black", "titleColor": "black", "labelFont": "Liberation Sans", "titleFont": "Liberation Sans", "labelFontSize": 16, "titleFontSize": 18, "titleFontWeight": "normal", "grid": false},
"text": {"font": "Liberation Sans", "fontSize": 18, "color": "black"},
"legend": {"labelFont": "Liberation Sans", "labelColor": "black"}
}
}
